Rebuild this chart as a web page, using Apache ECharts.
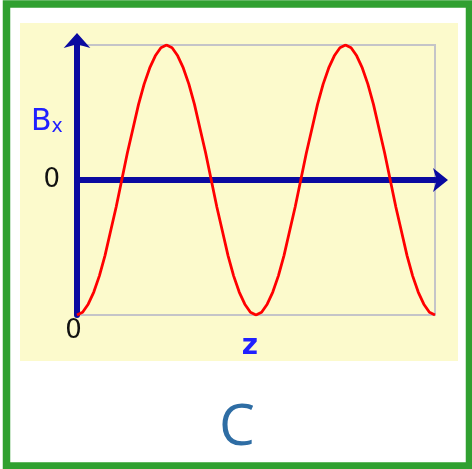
<!DOCTYPE html>
<html>
<head>
<meta charset="utf-8">
<script src="https://cdn.jsdelivr.net/npm/echarts@6/dist/echarts.min.js"></script>
<style>
  html, body { margin: 0; padding: 0; background: #fff; }
  #chart { width: 472px; height: 469px; }
</style>
</head>
<body>
<div id="chart"></div>
<script>
// z positions (in wavelengths, step 1/32) and field values
const zValues = [0, 0.03125, 0.0625, 0.09375, 0.125, 0.15625, 0.1875, 0.21875,
  0.25, 0.28125, 0.3125, 0.34375, 0.375, 0.40625, 0.4375, 0.46875,
  0.5, 0.53125, 0.5625, 0.59375, 0.625, 0.65625, 0.6875, 0.71875,
  0.75, 0.78125, 0.8125, 0.84375, 0.875, 0.90625, 0.9375, 0.96875,
  1, 1.03125, 1.0625, 1.09375, 1.125, 1.15625, 1.1875, 1.21875,
  1.25, 1.28125, 1.3125, 1.34375, 1.375, 1.40625, 1.4375, 1.46875,
  1.5, 1.53125, 1.5625, 1.59375, 1.625, 1.65625, 1.6875, 1.71875,
  1.75, 1.78125, 1.8125, 1.84375, 1.875, 1.90625, 1.9375, 1.96875, 2];
const bxValues = [-1, -0.98, -0.92, -0.83, -0.71, -0.56, -0.38, -0.2,
  0, 0.2, 0.38, 0.56, 0.71, 0.83, 0.92, 0.98,
  1, 0.98, 0.92, 0.83, 0.71, 0.56, 0.38, 0.2,
  0, -0.2, -0.38, -0.56, -0.71, -0.83, -0.92, -0.98,
  -1, -0.98, -0.92, -0.83, -0.71, -0.56, -0.38, -0.2,
  0, 0.2, 0.38, 0.56, 0.71, 0.83, 0.92, 0.98,
  1, 0.98, 0.92, 0.83, 0.71, 0.56, 0.38, 0.2,
  0, -0.2, -0.38, -0.56, -0.71, -0.83, -0.92, -0.98, -1];
const yTickLabels = ['0'];

const chart = echarts.init(document.getElementById('chart'));
const axisBlue = '#0a0aa0';

const options = {
  backgroundColor: '#fff',
  animation: false,
  grid: {
    left: 77, top: 45, right: 37, bottom: 154,
    show: true,
    borderColor: '#c4c4c8',
    borderWidth: 2,
    backgroundColor: 'transparent'
  },
  xAxis: {
    type: 'value',
    min: 0, max: 2,
    axisLine: {
      show: true,
      onZero: true,
      lineStyle: { color: axisBlue, width: 6 },
      symbol: ['none', 'arrow'],
      symbolSize: [18, 15],
      symbolOffset: [0, 13]
    },
    axisTick: { show: false },
    axisLabel: { show: false },
    splitLine: { show: false }
  },
  yAxis: {
    type: 'value',
    min: -1, max: 1, interval: 1,
    axisLine: {
      show: true,
      lineStyle: { color: axisBlue, width: 6 },
      symbol: ['none', 'arrow'],
      symbolSize: [20, 15],
      symbolOffset: [0, 12]
    },
    axisTick: { show: false },
    axisLabel: {
      margin: 17,
      color: '#111',
      fontSize: 26,
      fontFamily: 'DejaVu Sans',
      formatter: v => (v === 0 ? yTickLabels[0] : '')
    },
    splitLine: { show: false }
  },
  graphic: [
    {
      type: 'rect', z: -10, silent: true,
      shape: { x: 20, y: 23, width: 438, height: 338 },
      style: { fill: '#fcfacc' }
    },
    {
      type: 'rect', z: 100, silent: true,
      shape: { x: 6.5, y: 4, width: 463, height: 462 },
      style: { fill: 'none', stroke: '#30a030', lineWidth: 7.5 }
    },
    {
      type: 'text', left: 31, top: 107,
      style: {
        text: '{b|B}{s|x}',
        rich: {
          b: { fontSize: 30, fontFamily: 'DejaVu Sans', fill: '#2020ff' },
          s: { fontSize: 19, fontFamily: 'DejaVu Sans', fill: '#2020ff', padding: [11, 0, 0, 0] }
        }
      }
    },
    {
      type: 'text', x: 73.5, y: 331,
      style: { text: '0', fontSize: 26, fontFamily: 'DejaVu Sans', fill: '#111', align: 'center', verticalAlign: 'middle' }
    },
    {
      type: 'text', x: 250, y: 347,
      style: { text: 'z', fontSize: 28, fontWeight: 'bold', fontFamily: 'DejaVu Sans', fill: '#2020ff', align: 'center', verticalAlign: 'middle' }
    },
    {
      type: 'text', x: 237, y: 429,
      style: { text: 'C', fontSize: 57, fontFamily: 'Open Sans', fill: '#2e6da4', align: 'center', verticalAlign: 'middle' }
    }
  ],
  series: [
    {
      type: 'line',
      data: zValues.map((z, i) => [z, bxValues[i]]),
      smooth: false,
      showSymbol: false,
      lineStyle: { color: '#ff0000', width: 2.8 },
      z: 1
    }
  ]
};
chart.setOption(options);
</script>
</body>
</html>
